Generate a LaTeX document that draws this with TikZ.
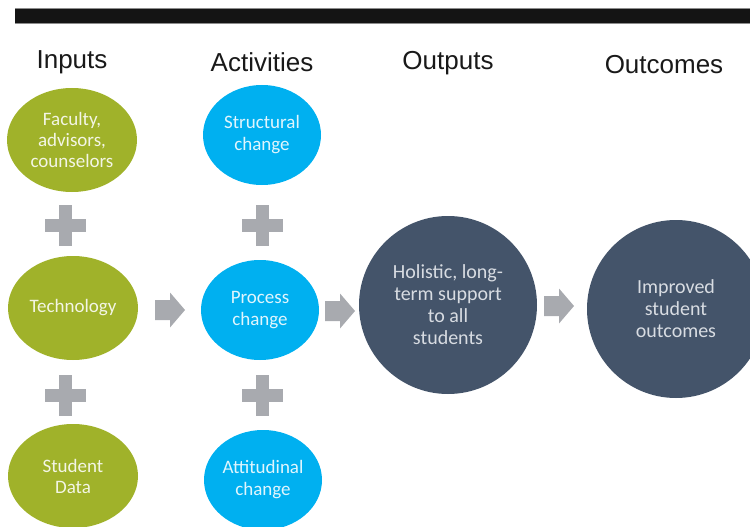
\documentclass[tikz,border=0pt]{standalone}
\usepackage{fontspec}
\setmainfont{Carlito}
\newfontfamily\hdfont{Liberation Sans}
\usetikzlibrary{shapes.geometric}
\definecolor{olivefill}{HTML}{A0B22A}
\definecolor{skyfill}{HTML}{00B0F0}
\definecolor{slatefill}{HTML}{44546A}
\definecolor{plusgray}{HTML}{A8AAAF}
\definecolor{slatetext}{HTML}{D8DCE2}
\newcommand\blockarrow[1]{\fill[plusgray,shift={(#1)}] (-15,-10) -- (0,-10) -- (0,-17.5) -- (15,0) -- (0,17.5) -- (0,10) -- (-15,10) -- cycle;}
\tikzset{
  hd/.style={font=\hdfont\fontsize{26}{30}\selectfont, text=black!90, inner sep=0pt},
  inbox/.style={ellipse, fill=olivefill, draw=none, minimum width=130pt, minimum height=104pt, inner sep=0pt, align=center, text=white, text opacity=0.88, font=\fontsize{19}{21}\selectfont},
  actbox/.style={ellipse, fill=skyfill, draw=none, minimum width=118pt, minimum height=100pt, inner sep=0pt, align=center, text=white, text opacity=0.88, font=\fontsize{19}{22}\selectfont},
  outbox/.style={circle, fill=slatefill, draw=none, minimum size=178pt, inner sep=0pt, align=center, text=slatetext, font=\fontsize{20}{22}\selectfont},
  hbar/.style={rectangle, fill=plusgray, minimum width=41pt, minimum height=13pt, inner sep=0pt},
  vbar/.style={rectangle, fill=plusgray, minimum width=13pt, minimum height=41pt, inner sep=0pt},
}
\begin{document}
\begin{tikzpicture}[x=1pt,y=-1pt]
\useasboundingbox (0,0) rectangle (750,527);
\clip (0,0) rectangle (750,527);
% top bar
\fill[black!92] (15,8) rectangle (752,23);
\draw[black!45, line width=0.8pt] (15,8) -- (752,8) (15,23) -- (752,23);
% headers
\node[hd] (h1) at (72,62) {Inputs};
\node[hd] (h2) at (262,62) {Activities};
\node[hd] (h3) at (448,63) {Outputs};
\node[hd] (h4) at (664,65) {Outcomes};
% inputs
\node[inbox] (i1) at (72,140) {Faculty,\\advisors,\\counselors};
\node[inbox] (i2) at (73,308) {Technology};
\node[inbox] (i3) at (73,476) {Student\\Data};
% activities
\node[actbox] (a1) at (262,135) {Structural\\change};
\node[actbox] (a2) at (260,310) {Process\\change};
\node[actbox] (a3) at (263,480) {Attitudinal\\change};
% outputs / outcomes
\node[outbox] (o1) at (448,305) {Holistic, long-\\term support\\to all\\students};
\node[outbox] (o2) at (676,309) {Improved\\student\\outcomes};
% plus signs
\node[hbar] (p1h) at (65,225) {}; \node[vbar] (p1v) at (65,225) {};
\node[hbar] (p2h) at (262,225) {}; \node[vbar] (p2v) at (262,225) {};
\node[hbar] (p3h) at (65,395) {}; \node[vbar] (p3v) at (65,395) {};
\node[hbar] (p4h) at (262,395) {}; \node[vbar] (p4v) at (262,395) {};
% block arrows
\coordinate (ar1) at (170,310);
\coordinate (ar2) at (340,311);
\coordinate (ar3) at (559,306);
\blockarrow{ar1}
\blockarrow{ar2}
\blockarrow{ar3}
\end{tikzpicture}
\end{document}
